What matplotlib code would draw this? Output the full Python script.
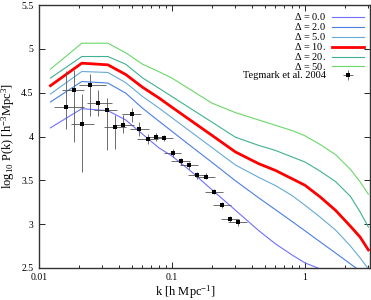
import numpy as np
import matplotlib
matplotlib.use('Agg')
import matplotlib.pyplot as plt

plt.rcParams['font.family'] = ['Liberation Serif', 'DejaVu Serif']
plt.rcParams['mathtext.fontset'] = 'custom'
plt.rcParams['mathtext.rm'] = 'Liberation Serif'
plt.rcParams['mathtext.it'] = 'Liberation Serif:italic'

# model curves, log10 P(k) on a common k grid
k_model = [0.0122, 0.021, 0.033, 0.045, 0.06, 0.08, 0.1, 0.14, 0.2, 0.3,
           0.45, 0.6, 0.8, 1.0, 1.3, 1.7, 2.2, 2.6, 3.0]
p_d0 = [4.099, 4.318, 4.295, 4.188, 4.028, 3.869, 3.778, 3.599, 3.392, 3.159,
        2.925, 2.775, 2.648, 2.557, 2.489, 2.364, 2.24, 2.15, 2.06]
p_d2 = [4.394, 4.628, 4.610, 4.494, 4.324, 4.174, 4.059, 3.886, 3.705, 3.495,
        3.299, 3.165, 3.030, 2.924, 2.798, 2.670, 2.545, 2.466, 2.398]
p_d5 = [4.485, 4.742, 4.731, 4.614, 4.458, 4.324, 4.214, 4.049, 3.874, 3.675,
        3.533, 3.440, 3.326, 3.216, 3.080, 2.932, 2.750, 2.614, 2.489]
p_d10 = [4.580, 4.837, 4.818, 4.707, 4.563, 4.439, 4.334, 4.178, 4.013, 3.824,
         3.689, 3.613, 3.518, 3.444, 3.311, 3.157, 2.975, 2.852, 2.705]
p_d20 = [4.667, 4.913, 4.913, 4.824, 4.670, 4.550, 4.456, 4.314, 4.164, 3.992,
         3.898, 3.841, 3.767, 3.709, 3.605, 3.485, 3.316, 3.139, 2.966]
p_d50 = [4.769, 5.065, 5.065, 4.955, 4.826, 4.739, 4.667, 4.528, 4.381, 4.273,
         4.188, 4.128, 4.068, 4.009, 3.909, 3.793, 3.624, 3.483, 3.341]

curve_labels = [r'$\Delta$ = 0.0', r'$\Delta$ = 2.0', r'$\Delta$ = 5.0',
                r'$\Delta$ = 10.', r'$\Delta$ = 20.', r'$\Delta$ = 50.']
curve_colors = ['#7070ff', '#4a7ee0', '#66aad4', '#ff0000', '#40b092', '#6ad86a']
curve_widths = [0.8, 0.8, 0.8, 2.0, 0.8, 0.8]

# Tegmark et al. 2004 points
k_obs = [0.0159, 0.0182, 0.0212, 0.0242, 0.0279, 0.0323, 0.0373, 0.0430,
         0.0498, 0.0568, 0.0655, 0.0758, 0.0871, 0.101, 0.116, 0.135,
         0.155, 0.179, 0.206, 0.238, 0.273, 0.312]
k_lo = [0.0130, 0.0150, 0.0173, 0.0200, 0.0231, 0.0260, 0.031, 0.036,
        0.042, 0.048, 0.055, 0.064, 0.074, 0.087, 0.099, 0.115,
        0.132, 0.152, 0.176, 0.203, 0.233, 0.266]
k_hi = [0.0218, 0.0218, 0.0259, 0.0318, 0.0356, 0.0388, 0.045, 0.052,
        0.059, 0.067, 0.078, 0.089, 0.102, 0.118, 0.136, 0.158,
        0.182, 0.210, 0.242, 0.280, 0.320, 0.365]
p_obs = [4.337, 4.526, 4.144, 4.583, 4.383, 4.299, 4.110, 4.136,
         4.261, 4.087, 3.974, 3.997, 3.985, 3.815, 3.72, 3.670,
         3.557, 3.542, 3.372, 3.216, 3.057, 3.019]
p_lo = [4.08, 3.94, 3.59, 4.23, 4.23, 3.85, 3.86, 4.04,
        4.16, 4.01, 3.92, 3.95, 3.95, 3.77, 3.67, 3.63,
        3.52, 3.51, 3.34, 3.18, 3.02, 2.98]
p_hi = [4.75, 4.76, 4.49, 4.71, 4.53, 4.44, 4.25, 4.24,
        4.33, 4.17, 4.03, 4.04, 4.02, 3.86, 3.76, 3.71,
        3.60, 3.58, 3.40, 3.25, 3.09, 3.06]

fig = plt.figure(figsize=(3.71, 3.0), dpi=100)
ax = fig.add_axes([0.105, 0.107, 0.892, 0.876])

curves = [p_d0, p_d2, p_d5, p_d10, p_d20, p_d50]
for p, lab, c, lw in zip(curves, curve_labels, curve_colors, curve_widths):
    ax.plot(k_model, p, color=c, lw=lw, label=lab)

k_obs_a = np.array(k_obs)
p_obs_a = np.array(p_obs)
xerr = [k_obs_a - np.array(k_lo), np.array(k_hi) - k_obs_a]
yerr = [p_obs_a - np.array(p_lo), np.array(p_hi) - p_obs_a]
ax.errorbar(k_obs, p_obs, xerr=xerr, yerr=yerr, fmt='s', color='black',
            ms=2.4, mew=0, ecolor='#555555', elinewidth=0.6, capsize=1.6,
            capthick=0.6, label='Tegmark et al. 2004')

ax.set_xscale('log')
ax.set_xlim(0.01, 3.08)
ax.set_ylim(2.5, 5.5)
ax.set_yticks([2.5, 3, 3.5, 4, 4.5, 5, 5.5])
ax.set_yticklabels(['2.5', '3', '3.5', '4', '4.5', '5', '5.5'])
ax.set_xticks([0.01, 0.1, 1])
ax.set_xticklabels(['0.01', '0.1', '1'])
ax.tick_params(which='both', direction='in', top=True, right=True, labelsize=7)
ax.tick_params(which='major', length=4, width=0.6, pad=4)
ax.tick_params(which='minor', length=2.5, width=0.6)
for s in ax.spines.values():
    s.set_linewidth(1.0)
    s.set_color('#333333')

ax.set_xlabel(r'k [h Mpc$^{-1}$]', fontsize=9, labelpad=1)
ax.xaxis.set_label_coords(0.443, -0.058)
ax.set_ylabel(r'log$_{10}$ P(k) [h$^{-3}$Mpc$^{3}$]', fontsize=9, labelpad=3)

leg = ax.legend(loc='upper right', frameon=False, fontsize=7.5, markerfirst=False,
                handlelength=3.0, labelspacing=-0.1, handletextpad=0.6,
                borderaxespad=0.2)

fig.savefig('out.png', dpi=100)
